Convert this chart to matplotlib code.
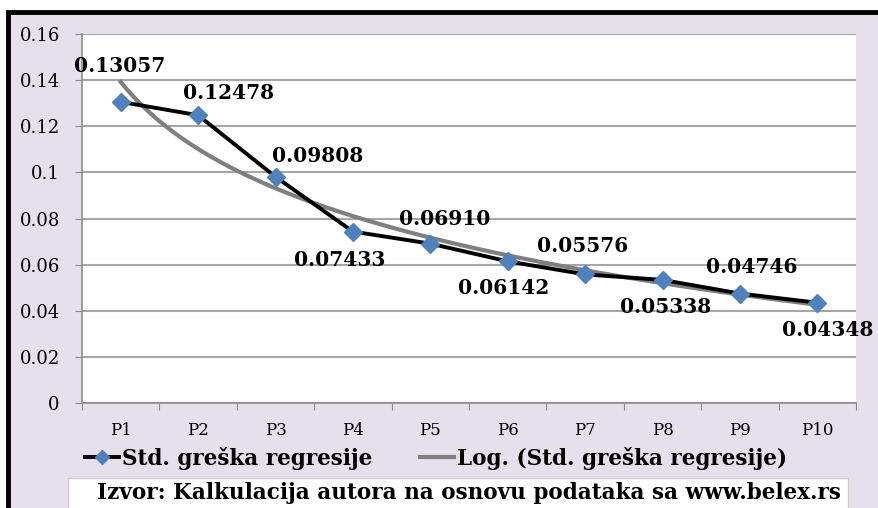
import matplotlib.pyplot as plt
import matplotlib.patches as mpatches
import numpy as np

# Podaci sa grafikona
periods = ["P1", "P2", "P3", "P4", "P5", "P6", "P7", "P8", "P9", "P10"]
std_errors = [0.13057, 0.12478, 0.09808, 0.07433, 0.06910,
              0.06142, 0.05576, 0.05338, 0.04746, 0.04348]
label_texts = ["0.13057", "0.12478", "0.09808", "0.07433", "0.06910",
               "0.06142", "0.05576", "0.05338", "0.04746", "0.04348"]
y_ticks = [0, 0.02, 0.04, 0.06, 0.08, 0.1, 0.12, 0.14, 0.16]
y_tick_labels = ["0", "0.02", "0.04", "0.06", "0.08", "0.1", "0.12", "0.14", "0.16"]
series_name = "Std. greška regresije"
trend_name = "Log. (Std. greška regresije)"
source_text = "Izvor: Kalkulacija autora na osnovu podataka sa www.belex.rs"

# pomaci natpisa (u pikselima)
label_offsets = [(-1, 36), (30, 22), (42, 21), (-13, -28), (14, 25),
                 (-4, -27), (-2, 28), (3, -27), (12, 27), (10, -27)]

bg = "#E6E0EC"
serif = ["DejaVu Serif"]
W, H = 879, 508

fig = plt.figure(figsize=(8.79, 5.08), dpi=100)
fig.patch.set_facecolor("white")

# okvir grafikona
frame = mpatches.Rectangle((8 / W, -0.05), 1.1, 1 - 12 / H + 0.05,
                           transform=fig.transFigure, facecolor=bg,
                           edgecolor="black", linewidth=3.5, zorder=-5)
fig.patches.append(frame)

ax = fig.add_axes([82 / W, 1 - 403 / H, 774 / W, 369 / H])
ax.set_facecolor("white")

x = np.arange(len(periods))

# logaritamski trend (kao u Excelu)
a, b = np.polyfit(np.log(x + 1), std_errors, 1)
xt = np.linspace(0, len(periods) - 1, 200)
trend = a * np.log(xt + 1) + b

ax.plot(xt, trend, color="#7F7F7F", linewidth=3, zorder=3)
ax.plot(x, std_errors, color="black", linewidth=2.8, marker="D",
        markersize=9, markerfacecolor="#4F81BD", markeredgecolor="#4F81BD",
        zorder=4)

for xi, yi, txt, off in zip(x, std_errors, label_texts, label_offsets):
    ax.annotate(txt, (xi, yi), xytext=off, textcoords="offset pixels",
                ha="center", va="center", fontsize=14.5, fontweight="bold",
                family=serif, zorder=5)

ax.set_xlim(-0.5, len(periods) - 0.5)
ax.set_ylim(0, 0.16)
ax.set_yticks(y_ticks)
ax.set_yticklabels(y_tick_labels, family=serif, fontsize=13)
ax.set_xticks(np.arange(len(periods) + 1) - 0.5)
ax.set_xticklabels([])
ax.set_xticks(x, minor=True)
ax.set_xticklabels(periods, minor=True, family=serif, fontsize=12)
ax.tick_params(axis="x", which="major", length=5, color="#8C8C8C", direction="out")
ax.tick_params(axis="x", which="minor", length=0, pad=14)
ax.tick_params(axis="y", length=5, color="#8C8C8C", pad=11)

ax.grid(axis="y", color="#A6A6A6", linewidth=1.5)
ax.set_axisbelow(True)
for s in ["top", "right"]:
    ax.spines[s].set_visible(False)
ax.spines["left"].set_color("#8C8C8C")
ax.spines["bottom"].set_color("#8C8C8C")
ax.spines["left"].set_linewidth(1.2)
ax.spines["bottom"].set_linewidth(1.2)

# legenda - dvije stavke
h1 = plt.Line2D([], [], color="black", linewidth=2.8, marker="D", markersize=7,
                markerfacecolor="#4F81BD", markeredgecolor="#4F81BD")
h2 = plt.Line2D([], [], color="#7F7F7F", linewidth=3)
for h, name, x0 in [(h1, series_name, 85), (h2, trend_name, 420)]:
    fig.legend([h], [name], loc="center left", bbox_to_anchor=(x0 / W, 1 - 458 / H),
               frameon=False, borderpad=0, borderaxespad=0,
               prop={"family": serif, "weight": "bold", "size": 15.5},
               handlelength=1.6, handletextpad=0.1)

# izvor
box = mpatches.Rectangle((68 / W, -0.05), 780 / W, 1 - 478 / H + 0.05,
                         transform=fig.transFigure, facecolor="white",
                         edgecolor="#CFCFCF", linewidth=1, zorder=-4)
fig.patches.append(box)
fig.text(469 / W, 1 - 493 / H, source_text, ha="center", va="center",
         family=serif, fontweight="bold", fontsize=15.5)

fig.savefig("out.png", dpi=100, facecolor=fig.get_facecolor())
